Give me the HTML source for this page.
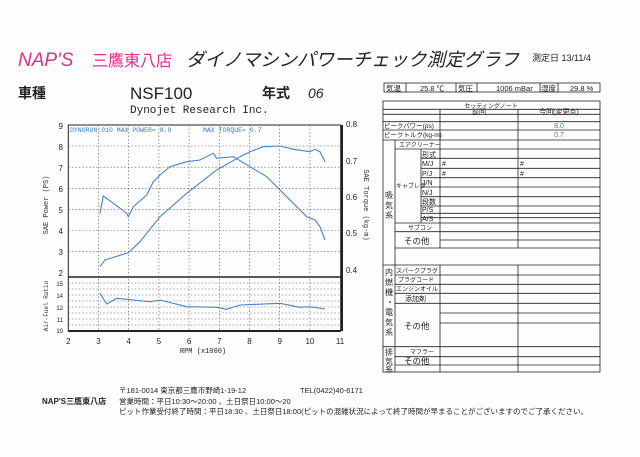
<!DOCTYPE html><html><head><meta charset="utf-8"><style>body{margin:0;background:#fff}svg{display:block}text{font-family:"Liberation Sans","Noto Sans CJK JP",sans-serif}text.m{font-family:"Liberation Mono",monospace}</style></head><body>
<svg width="640" height="457" viewBox="0 0 640 457" xmlns="http://www.w3.org/2000/svg">
<rect width="640" height="457" fill="#fdfdfd"/>
<text x="18" y="66" font-size="19" font-style="italic" fill="#e0308a">NAP'S</text>
<text x="92" y="66" font-size="16" fill="#e0308a">三鷹東八店</text>
<text x="186" y="66" font-size="18.5" font-style="italic" fill="#222">ダイノマシンパワーチェック測定グラフ</text>
<text x="532" y="61" font-size="9" fill="#222">測定日  13/11/4</text>
<text x="18" y="98" font-size="14" font-weight="bold" fill="#222">車種</text>
<text x="130" y="99" font-size="17" fill="#222">NSF100</text>
<text x="262" y="98" font-size="14" font-weight="bold" fill="#222">年式</text>
<text x="308" y="98" font-size="14" font-style="italic" fill="#222">06</text>
<text x="130" y="113" font-size="11" class="m" fill="#222">Dynojet Research Inc.</text>
<g stroke="#222" fill="none">
<rect x="68.3" y="125" width="272.4" height="206" stroke-width="1"/>
<line x1="68.3" y1="277" x2="340.7" y2="277" stroke-width="1.5"/>
<line x1="342" y1="125" x2="342" y2="331" stroke-width="2"/>
<line x1="68.3" y1="331" x2="340.7" y2="331" stroke-width="2"/>
</g>
<g stroke="#555" stroke-dasharray="1.5,2" stroke-width="0.6">
<line x1="98.5" y1="125" x2="98.5" y2="331"/><line x1="128.7" y1="125" x2="128.7" y2="331"/><line x1="158.9" y1="125" x2="158.9" y2="331"/><line x1="189.1" y1="125" x2="189.1" y2="331"/><line x1="219.3" y1="125" x2="219.3" y2="331"/><line x1="249.5" y1="125" x2="249.5" y2="331"/><line x1="279.7" y1="125" x2="279.7" y2="331"/><line x1="309.9" y1="125" x2="309.9" y2="331"/>
<line x1="68.3" y1="146" x2="340.7" y2="146"/><line x1="68.3" y1="167.2" x2="340.7" y2="167.2"/><line x1="68.3" y1="188.3" x2="340.7" y2="188.3"/><line x1="68.3" y1="209.4" x2="340.7" y2="209.4"/><line x1="68.3" y1="230.5" x2="340.7" y2="230.5"/><line x1="68.3" y1="251.6" x2="340.7" y2="251.6"/>
<line x1="68.3" y1="283" x2="340.7" y2="283"/><line x1="68.3" y1="289" x2="340.7" y2="289"/><line x1="68.3" y1="295" x2="340.7" y2="295"/><line x1="68.3" y1="301" x2="340.7" y2="301"/><line x1="68.3" y1="307" x2="340.7" y2="307"/><line x1="68.3" y1="313" x2="340.7" y2="313"/><line x1="68.3" y1="319" x2="340.7" y2="319"/><line x1="68.3" y1="325" x2="340.7" y2="325"/>
</g>
<g font-size="8" fill="#222" text-anchor="end">
<text x="63" y="129">9</text><text x="63" y="150">8</text><text x="63" y="171">7</text><text x="63" y="192">6</text><text x="63" y="213">5</text><text x="63" y="234">4</text><text x="63" y="255">3</text><text x="63" y="276">2</text>
</g>
<g font-size="6" fill="#222" text-anchor="end"><text x="63" y="286">15</text><text x="63" y="298">14</text><text x="63" y="310">12</text><text x="63" y="322">11</text><text x="63" y="333">10</text></g>
<g font-size="8" fill="#222">
<text x="346" y="127">0.8</text><text x="346" y="164">0.7</text><text x="346" y="200">0.6</text><text x="346" y="236">0.5</text><text x="346" y="273">0.4</text>
</g>
<g font-size="8" fill="#222" text-anchor="middle">
<text x="68.3" y="344">2</text><text x="98.5" y="344">3</text><text x="128.7" y="344">4</text><text x="158.9" y="344">5</text><text x="189.1" y="344">6</text><text x="219.3" y="344">7</text><text x="249.5" y="344">8</text><text x="279.7" y="344">9</text><text x="309.9" y="344">10</text><text x="340" y="344">11</text>
<text x="203" y="353" font-size="7" class="m">RPM (x1000)</text>
</g>
<text transform="translate(48,205) rotate(-90)" font-size="7" text-anchor="middle" class="m" fill="#333">SAE Power (PS)</text>
<text transform="translate(48,306) rotate(-90)" font-size="6" text-anchor="middle" class="m" fill="#333">Air-Fuel Ratio</text>
<text transform="translate(364,205) rotate(90)" font-size="7" text-anchor="middle" class="m" fill="#333">SAE Torque (kg-m)</text>
<text x="70" y="132" font-size="6.5" class="m" fill="#3a7bc0">DYNORUN:010  MAX POWER= 8.0</text>
<text x="203" y="132" font-size="6.5" class="m" fill="#3a7bc0">MAX TORQUE= 0.7</text>
<g fill="none" stroke="#4a84c0" stroke-width="1.1">
<polyline points="100,266.7 105,260 128.3,252.7 140,241.7 160,216.7 186.7,193.3 216.7,170 240,156.7 250,151.7 263.3,146.7 280,146 293.3,149.3 310,151.7 315,149.3 320,151.7 325,161.7"/>
<polyline points="100,213.3 103.3,196 113.3,203.3 126.7,213.3 128.3,216.7 133.3,206.7 146.7,195 153.3,181.7 160,175 170,166.7 186.7,161.7 200,160 213.3,153.3 216.7,158.3 233.3,156.7 250,166.7 266.7,176.7 280,190 293.3,203.3 306.7,216.7 315,220 320,226.7 325,240"/>
<polyline points="100,293.3 106.7,304 116.7,298.3 133.3,300 150,301.7 160,300 186.7,306.7 216.7,307.3 226.7,309.3 240,305 280,303.3 300,307.3 310,306.7 325,309"/>
</g>
<g stroke="#222" fill="none" stroke-width="0.8">
<rect x="384" y="83" width="216" height="9"/>
<line x1="406" y1="83" x2="406" y2="92"/><line x1="456" y1="83" x2="456" y2="92"/><line x1="477" y1="83" x2="477" y2="92"/><line x1="540" y1="83" x2="540" y2="92"/><line x1="558" y1="83" x2="558" y2="92"/>
</g>
<g font-size="7.5" fill="#222"><text x="386" y="91">気温</text><text x="420" y="91">25.8 ℃</text><text x="458" y="91">気圧</text><text x="496" y="91">1006 mBar</text><text x="541" y="91">湿度</text><text x="570" y="91">29.8 %</text></g>
<g stroke="#222" fill="none" stroke-width="0.8">
<rect x="383" y="101" width="217" height="271"/>
<line x1="383" y1="109.3" x2="600" y2="109.3"/><line x1="383" y1="114.3" x2="600" y2="114.3"/>
<line x1="383" y1="121.7" x2="600" y2="121.7"/><line x1="383" y1="130" x2="600" y2="130"/><line x1="383" y1="140" x2="600" y2="140"/>
<line x1="440" y1="109.3" x2="440" y2="248"/><line x1="518" y1="109.3" x2="518" y2="248"/>
<line x1="395" y1="140" x2="395" y2="265"/>
<line x1="395" y1="149" x2="600" y2="149"/>
<line x1="421" y1="149" x2="421" y2="223"/>
<line x1="421" y1="158.3" x2="600" y2="158.3"/><line x1="421" y1="168.3" x2="600" y2="168.3"/><line x1="421" y1="177.7" x2="600" y2="177.7"/><line x1="421" y1="187" x2="600" y2="187"/><line x1="421" y1="196.7" x2="600" y2="196.7"/><line x1="421" y1="206" x2="600" y2="206"/><line x1="421" y1="213.3" x2="600" y2="213.3"/><line x1="421" y1="217.7" x2="600" y2="217.7"/>
<line x1="395" y1="223" x2="600" y2="223"/><line x1="395" y1="231.7" x2="600" y2="231.7"/><line x1="440" y1="240" x2="600" y2="240"/><line x1="395" y1="248" x2="600" y2="248"/>
<line x1="383" y1="265" x2="600" y2="265"/>
<line x1="395" y1="265" x2="395" y2="346.7"/><line x1="440" y1="265" x2="440" y2="372"/><line x1="518" y1="265" x2="518" y2="372"/>
<line x1="395" y1="275" x2="600" y2="275"/><line x1="395" y1="284.3" x2="600" y2="284.3"/><line x1="395" y1="293.3" x2="600" y2="293.3"/><line x1="395" y1="303.3" x2="600" y2="303.3"/>
<line x1="440" y1="313" x2="600" y2="313"/><line x1="440" y1="323" x2="600" y2="323"/>
<line x1="383" y1="346.7" x2="600" y2="346.7"/><line x1="395" y1="356.7" x2="600" y2="356.7"/><line x1="395" y1="365" x2="600" y2="365"/><line x1="395" y1="346.7" x2="395" y2="372"/>
</g>
<g font-size="7" fill="#222">
<text x="491" y="108" text-anchor="middle" font-size="6">セッティングノート</text>
<text x="479" y="114" text-anchor="middle">前回</text><text x="559" y="114" text-anchor="middle">今回(変更点)</text>
<text x="384" y="128" font-size="6.5">ピークパワー(ps)</text><text x="384" y="137" font-size="6.5">ピークトルク(kg-m)</text>
<text x="559" y="128" text-anchor="middle" fill="#3a7bc0">8.0</text><text x="559" y="137" text-anchor="middle" fill="#3a7bc0">0.7</text>
<text x="399" y="147" font-size="6">エアクリーナー</text>
<text x="422" y="157">形式</text><text x="422" y="166">M/J</text><text x="422" y="176">P/J</text><text x="422" y="185">J/N</text><text x="422" y="195">N/J</text><text x="422" y="204">段数</text><text x="422" y="212">P/S</text><text x="422" y="221">A/S</text>
<text x="442" y="166">#</text><text x="442" y="176">#</text><text x="520" y="166">#</text><text x="520" y="176">#</text>
<text x="396" y="188" font-size="6">キャブレタ</text>
<text x="385" y="198" font-size="8">吸</text><text x="385" y="208" font-size="8">気</text><text x="385" y="218" font-size="8">系</text>
<text x="408" y="230" font-size="6">サブコン</text>
<text x="404" y="244" font-size="8.5">その他</text>
<text x="396" y="273" font-size="6">スパークプラグ</text><text x="398" y="282" font-size="6">プラグコード</text><text x="396" y="291" font-size="6">エンジンオイル</text><text x="405" y="301">添加剤</text>
<text x="404" y="329" font-size="8.5">その他</text>
<text x="385" y="275" font-size="8">内</text><text x="385" y="285" font-size="8">燃</text><text x="385" y="295" font-size="8">機</text><text x="386" y="305" font-size="8">・</text><text x="385" y="315" font-size="8">電</text><text x="385" y="325" font-size="8">気</text><text x="385" y="335" font-size="8">系</text>
<text x="410" y="354" font-size="6">マフラー</text><text x="404" y="364" font-size="8.5">その他</text>
<text x="385" y="355" font-size="8">排</text><text x="385" y="364" font-size="8">気</text><text x="385" y="372" font-size="8">系</text>
</g>
<g font-size="7.5" fill="#222">
<text x="119" y="393">〒181-0014  東京都三鷹市野崎1-19-12</text><text x="300" y="393">TEL(0422)40-6171</text>
<text x="42" y="404" font-weight="bold" font-size="8">NAP'S三鷹東八店</text>
<text x="119" y="404">営業時間：平日10:30～20:00 、土日祭日10:00～20</text>
<text x="119" y="414">ピット作業受付終了時間：平日18:30 、土日祭日18:00(ピットの混雑状況によって終了時間が早まることがございますのでご了承ください。</text>
</g>
</svg>
</body></html>
